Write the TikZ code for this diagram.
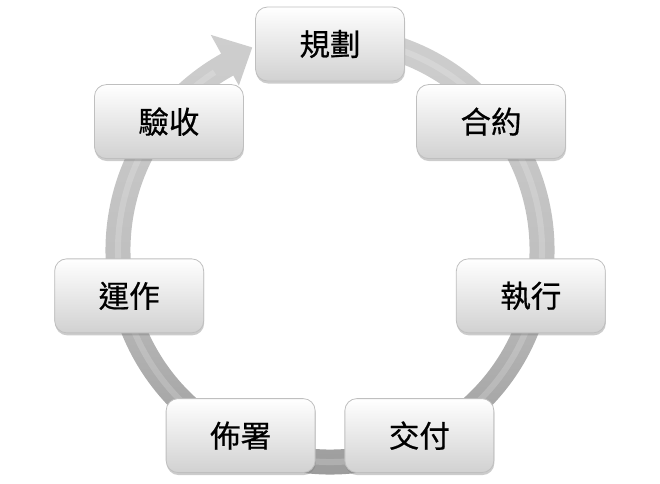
\documentclass[tikz,border=0pt]{standalone}
\usepackage{fontspec}
\newfontfamily\cjk[FakeBold=0.6]{Noto Sans CJK TC}
\usetikzlibrary{shadows,calc}
\begin{document}
\begin{tikzpicture}[x=1pt,y=1pt,
  stagebox/.style={rounded corners=12pt, minimum width=149pt, minimum height=74pt, inner sep=0pt,
    draw=gray!50, line width=0.8pt, top color=white, bottom color=gray!36,
    drop shadow={opacity=0.4, shadow xshift=0.5pt, shadow yshift=-2.5pt},
    font=\cjk\fontsize{30.5}{36}\selectfont, text=black},
  ringshape/.style={top color=gray!38, bottom color=gray!80, middle color=gray!50},
  ringshine/.style={white, opacity=0.18, line width=6pt}
  ]
\useasboundingbox (0,0) rectangle (660,-483);
\coordinate (C) at (330,-250);
\shade[ringshape]
  ($(C)+(80:224.5)$) arc[start angle=80, end angle=-241, radius=224.5]
  -- ($(C)+(119:246)$) -- ($(C)+(111:217)$) -- ($(C)+(119:188)$) -- ($(C)+(119:199.5)$)
  arc[start angle=-241, end angle=80, radius=199.5] -- cycle;
\draw[ringshine] ($(C)+(80:212)$) arc[start angle=80, end angle=-237, radius=212];
\node[stagebox] (n1) at ($(C)+(90:206)$) {規劃};
\node[stagebox] (n2) at ($(C)+(38.57:206)$) {合約};
\node[stagebox] (n3) at ($(C)+(-12.86:206)$) {執行};
\node[stagebox] (n4) at ($(C)+(-64.29:206)$) {交付};
\node[stagebox] (n5) at ($(C)+(-115.71:206)$) {佈署};
\node[stagebox] (n6) at ($(C)+(-167.14:206)$) {運作};
\node[stagebox] (n7) at ($(C)+(141.43:206)$) {驗收};
\end{tikzpicture}
\end{document}
